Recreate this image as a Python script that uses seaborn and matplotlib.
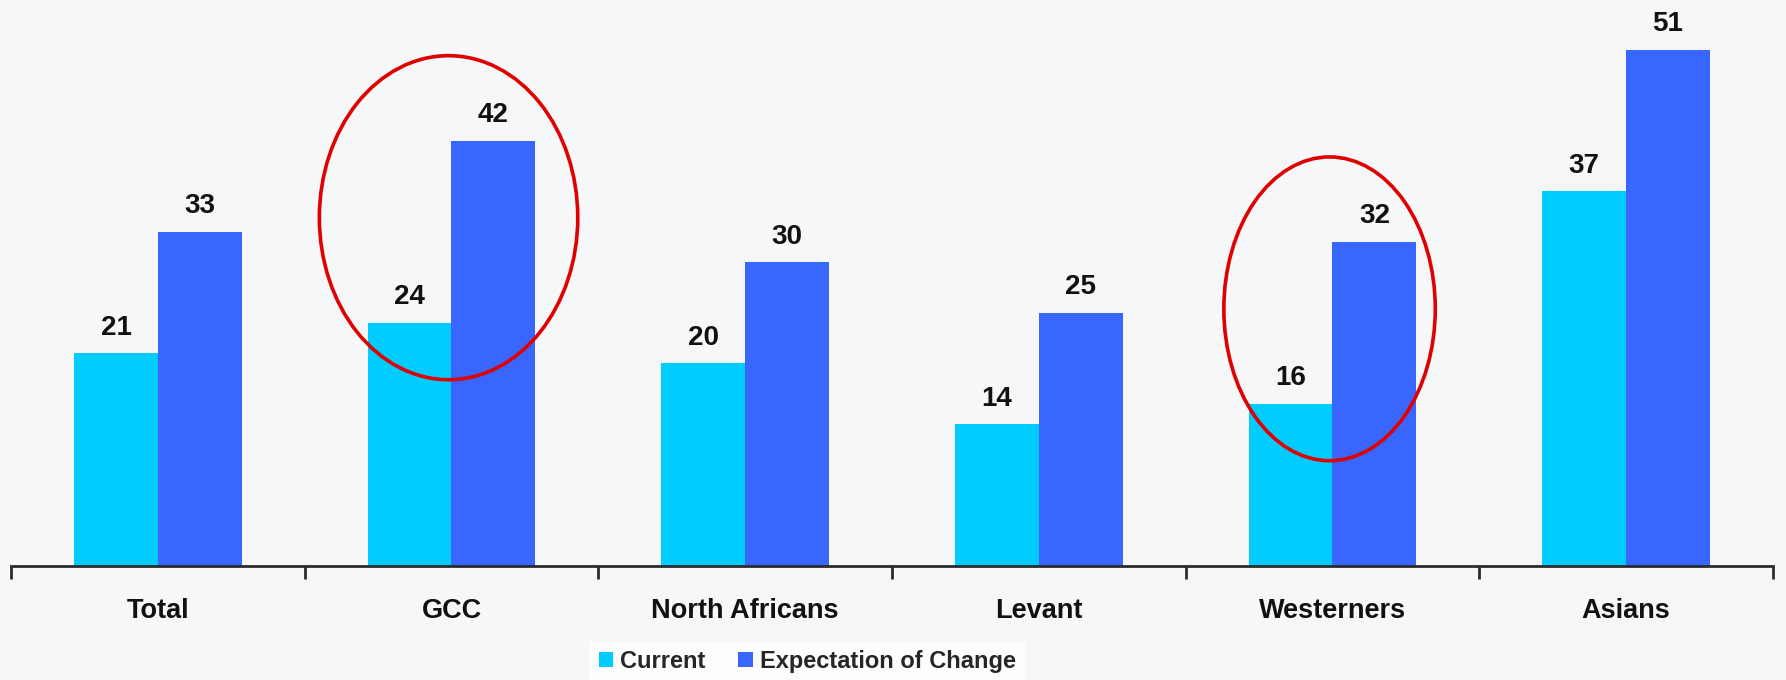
import matplotlib
matplotlib.use("Agg")
import matplotlib.pyplot as plt
import seaborn as sns
import pandas as pd
from matplotlib.patches import Ellipse, Patch

categories = ["Total", "GCC", "North Africans", "Levant", "Westerners", "Asians"]
current = [21, 24, 20, 14, 16, 37]
expectation = [33, 42, 30, 25, 32, 51]
series_names = ["Current", "Expectation of Change"]
colors = ["#00CCFF", "#3966FF"]
highlighted = ["GCC", "Westerners"]

df = pd.DataFrame({
    "category": categories * 2,
    "series": [series_names[0]] * len(categories) + [series_names[1]] * len(categories),
    "value": current + expectation,
})

sns.set_theme(style="white")
plt.rcParams["font.family"] = ["Liberation Sans", "DejaVu Sans"]

bg = "#f6f7f9"
fig = plt.figure(figsize=(17.86, 6.8), dpi=100, facecolor=bg)
ax = fig.add_axes([11 / 1786, 114 / 680, 1762 / 1786, 566 / 680])
ax.set_facecolor(bg)

sns.barplot(data=df, x="category", y="value", hue="series", order=categories,
            hue_order=series_names, palette=colors, width=0.57, saturation=1,
            linewidth=0, edgecolor="none", ax=ax, legend=False)

for cont in ax.containers:
    ax.bar_label(cont, fmt="%d", padding=9, fontsize=20, fontweight="bold", color="#111111")

ax.set_xlim(-0.5, len(categories) - 0.5)
ax.set_ylim(0, 55.9)
ax.set_xlabel("")
ax.set_ylabel("")
ax.set_yticks([])
for s in ["top", "right", "left"]:
    ax.spines[s].set_visible(False)
ax.spines["bottom"].set_color("#2b2b2b")
ax.spines["bottom"].set_linewidth(2)

ax.set_xticks(range(len(categories)))
ax.set_xticklabels(categories, fontsize=19.5, fontweight="bold", color="#111111")
ax.set_xticks([i - 0.5 for i in range(len(categories) + 1)], minor=True)
ax.tick_params(axis="x", which="major", bottom=True, length=0, pad=23)
ax.tick_params(axis="x", which="minor", bottom=True, length=9, width=2,
               color="#2b2b2b", direction="out")

# highlight ellipses around selected groups
for name in highlighted:
    i = categories.index(name)
    c, e = current[i], expectation[i]
    w = 0.88 if name == "GCC" else 0.72
    el = Ellipse((i - 0.01, (c + e) / 2 + 1.4), width=w, height=(e - c) + 14,
                 fill=False, edgecolor="#e00000", linewidth=2.6, zorder=5)
    ax.add_patch(el)

handles = [Patch(facecolor=colors[0], edgecolor="none"), Patch(facecolor=colors[1], edgecolor="none")]
leg = fig.legend(handles, series_names, loc="center", bbox_to_anchor=(0.452, 0.027),
                 ncol=2, frameon=True, fancybox=False, handlelength=0.6, handleheight=0.6,
                 handletextpad=0.3, columnspacing=1.4,
                 prop={"size": 17, "weight": "bold"})
leg.get_frame().set_facecolor("white")
leg.get_frame().set_edgecolor("none")

fig.savefig("out.png", dpi=100, facecolor=bg)
